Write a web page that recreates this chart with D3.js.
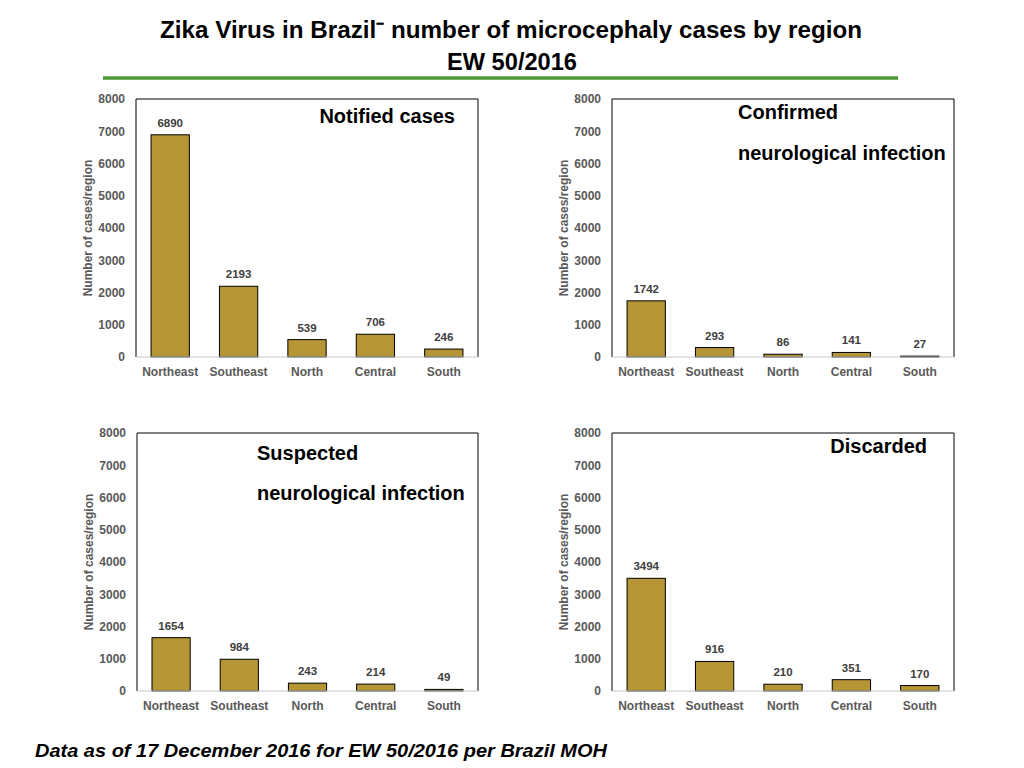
<!DOCTYPE html>
<html>
<head>
<meta charset="utf-8">
<script src="https://cdn.jsdelivr.net/npm/d3@7"></script>
<style>
  body { margin: 0; background: #fff; }
  text { font-family: "Liberation Sans", Arial, sans-serif; }
</style>
</head>
<body>
<svg id="chart"></svg>
<script>
var regions = ['Northeast', 'Southeast', 'North', 'Central', 'South'];
var notified = [6890, 2193, 539, 706, 246];
var confirmed = [1742, 293, 86, 141, 27];
var suspected = [1654, 984, 243, 214, 49];
var discarded = [3494, 916, 210, 351, 170];
var yTicks = [0, 1000, 2000, 3000, 4000, 5000, 6000, 7000, 8000];

var width = 1024, height = 768;
var svg = d3.select('#chart')
            .attr('width', width)
            .attr('height', height);

// heading (condensed look via textLength)
svg.append('text')
    .attr('x', 511)
    .attr('y', 38)
    .attr('text-anchor', 'middle')
    .attr('textLength', 702)
    .attr('lengthAdjust', 'spacingAndGlyphs')
    .style('font-size', '24px')
    .style('font-weight', 'bold')
    .text('Zika Virus in Brazil\u207B  number of microcephaly cases by region');
svg.append('text')
    .attr('x', 512)
    .attr('y', 70)
    .attr('text-anchor', 'middle')
    .attr('textLength', 130)
    .attr('lengthAdjust', 'spacingAndGlyphs')
    .style('font-size', '24px')
    .style('font-weight', 'bold')
    .text('EW 50/2016');
svg.append('line')
    .attr('x1', 103).attr('x2', 898)
    .attr('y1', 78).attr('y2', 78)
    .attr('stroke', '#4f9a37')
    .attr('stroke-width', 3.5);

// footer
svg.append('text')
    .attr('x', 35)
    .attr('y', 757)
    .attr('textLength', 572)
    .attr('lengthAdjust', 'spacingAndGlyphs')
    .style('font-size', '19px')
    .style('font-weight', 'bold')
    .style('font-style', 'italic')
    .text('Data as of 17 December 2016 for EW 50/2016 per Brazil MOH');

function drawPanel(left, top, right, bottom, values, titleLines) {
    var g = svg.append('g');

    var x = d3.scaleBand()
                .domain(regions)
                .range([left, right])
                .paddingInner(0.44)
                .paddingOuter(0.22);

    var y = d3.scaleLinear()
                .domain([0, 8000])
                .range([bottom, top]);

    // frame: black on top, left, right
    g.append('path')
        .attr('d', `M${left},${bottom}V${top}H${right}V${bottom}`)
        .attr('fill', 'none')
        .attr('stroke', '#000')
        .attr('stroke-width', 1);

    g.selectAll('.bar')
        .data(values)
        .enter()
        .append('rect')
            .classed('bar', true)
            .attr('x', (d, i) => x(regions[i]))
            .attr('y', d => y(d))
            .attr('width', x.bandwidth())
            .attr('height', d => bottom - y(d))
            .attr('fill', '#b59534')
            .attr('stroke', '#000')
            .attr('stroke-width', 1);

    g.selectAll('.value')
        .data(values)
        .enter()
        .append('text')
            .attr('x', (d, i) => x(regions[i]) + x.bandwidth() / 2)
            .attr('y', d => y(d) - 8)
            .attr('text-anchor', 'middle')
            .style('font-size', '11.5px')
            .style('font-weight', 'bold')
            .style('fill', '#404040')
            .text(d => d);

    // bottom axis line
    g.append('line')
        .attr('x1', left).attr('x2', right)
        .attr('y1', bottom).attr('y2', bottom)
        .attr('stroke', '#c8c8c8')
        .attr('stroke-width', 1.2);

    var yAxis = d3.axisLeft(y)
                    .tickValues(yTicks)
                    .tickFormat(d3.format('d'))
                    .tickSize(0)
                    .tickPadding(11);
    var ya = g.append('g')
                .attr('transform', `translate(${left},0)`)
                .call(yAxis);
    ya.select('.domain').remove();
    ya.selectAll('text')
        .style('font-size', '12px')
        .style('font-weight', 'bold')
        .style('fill', '#595959')
        .style('font-family', '"Liberation Sans", Arial, sans-serif');

    var xAxis = d3.axisBottom(x)
                    .tickSize(0)
                    .tickPadding(10);
    var xa = g.append('g')
                .attr('transform', `translate(0,${bottom})`)
                .call(xAxis);
    xa.select('.domain').remove();
    xa.selectAll('text')
        .style('font-size', '12px')
        .style('font-weight', 'bold')
        .style('fill', '#595959')
        .style('font-family', '"Liberation Sans", Arial, sans-serif');

    g.append('text')
        .attr('transform', `translate(${left - 44},${(top + bottom) / 2}) rotate(-90)`)
        .attr('text-anchor', 'middle')
        .style('font-size', '12px')
        .style('font-weight', 'bold')
        .style('fill', '#595959')
        .text('Number of cases/region');

    titleLines.forEach(t => {
        g.append('text')
            .attr('x', t.x)
            .attr('y', t.y)
            .attr('text-anchor', t.anchor)
            .style('font-size', '20px')
            .style('font-weight', 'bold')
            .text(t.text);
    });
}

drawPanel(136, 99, 478, 357, notified, [
    { text: 'Notified cases', x: 455, y: 123, anchor: 'end' }
]);
drawPanel(612, 99, 954, 357, confirmed, [
    { text: 'Confirmed', x: 738, y: 119, anchor: 'start' },
    { text: 'neurological infection', x: 738, y: 160, anchor: 'start' }
]);
drawPanel(137, 433, 478, 691, suspected, [
    { text: 'Suspected', x: 257, y: 460, anchor: 'start' },
    { text: 'neurological infection', x: 257, y: 500, anchor: 'start' }
]);
drawPanel(612, 433, 954, 691, discarded, [
    { text: 'Discarded', x: 927, y: 453, anchor: 'end' }
]);
</script>
</body>
</html>
